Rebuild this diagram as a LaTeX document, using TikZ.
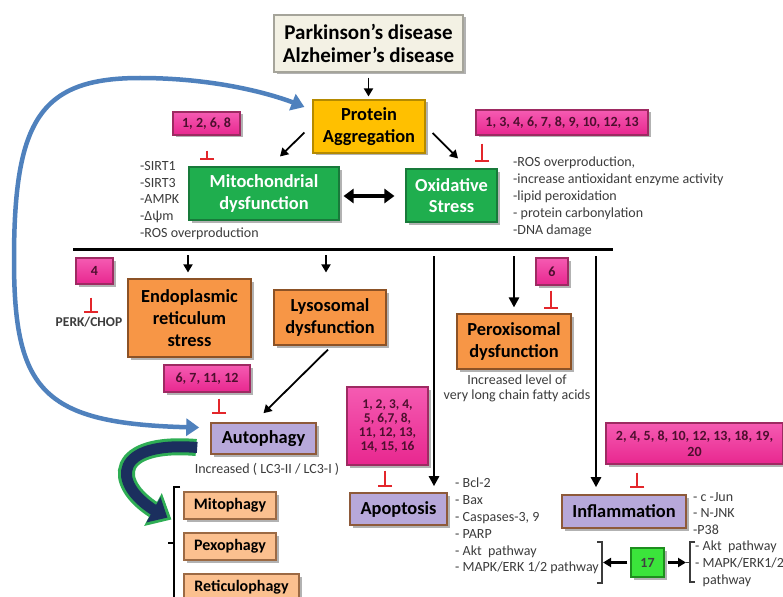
\documentclass[tikz,border=0pt]{standalone}
\usepackage{fontspec}
\setmainfont{Carlito}
\usetikzlibrary{arrows.meta,shadows,calc,bending}
\definecolor{pinkT}{HTML}{F55BB2}
\definecolor{pinkB}{HTML}{E8278F}
\definecolor{pinkD}{HTML}{9E2A62}
\definecolor{pinkTxt}{HTML}{4D0F2E}
\definecolor{grnF}{HTML}{1FAE4E}
\definecolor{grnD}{HTML}{187A3A}
\definecolor{goldF}{HTML}{FFC000}
\definecolor{goldD}{HTML}{B58A00}
\definecolor{orng}{HTML}{F79646}
\definecolor{orngD}{HTML}{8C5226}
\definecolor{peach}{HTML}{FBC08F}
\definecolor{peachD}{HTML}{9C6A44}
\definecolor{lav}{HTML}{B7A8DA}
\definecolor{lavD}{HTML}{8E5A3A}
\definecolor{titleF}{HTML}{F3F1E4}
\definecolor{titleD}{HTML}{A5A49A}
\definecolor{blueA}{HTML}{4F81BD}
\definecolor{navyA}{HTML}{1B2F5E}
\definecolor{glowA}{HTML}{2FAE55}
\definecolor{inhR}{HTML}{E3262B}
\definecolor{txtG}{HTML}{3C3C3C}
\definecolor{limeF}{HTML}{3BE43B}
\definecolor{limeD}{HTML}{1E8E1E}
\begin{document}
\begin{tikzpicture}[x=1pt,y=-1pt,
  bx/.style={draw, line width=1.1pt, align=center, inner sep=1pt,
    drop shadow={shadow xshift=2.5pt,shadow yshift=-2.5pt,opacity=0.3,fill=black}},
  titlebox/.style={bx, fill=titleF, draw=titleD, font=\fontsize{21}{23}\selectfont\bfseries},
  goldbox/.style={bx, fill=goldF, draw=goldD, font=\fontsize{18.4}{21.5}\selectfont\bfseries},
  grnbox/.style={bx, fill=grnF, draw=grnD, text=white, font=\fontsize{18.4}{21.5}\selectfont\bfseries},
  orbox/.style={bx, fill=orng, draw=orngD, font=\fontsize{18.4}{22}\selectfont\bfseries},
  lavbox/.style={bx, fill=lav, draw=lavD, line width=1.6pt, font=\fontsize{18.4}{21}\selectfont\bfseries},
  peachbox/.style={bx, fill=peach, draw=peachD, font=\fontsize{16}{18}\selectfont\bfseries},
  pinkbox/.style={bx, top color=pinkT, bottom color=pinkB, draw=pinkD, text=pinkTxt,
    font=\fontsize{14}{16}\selectfont\bfseries},
  listtxt/.style={align=left, inner sep=0pt, text=txtG, font=\fontsize{14}{16.8}\selectfont, anchor=north west},
  arr/.style={line width=1.8pt, -{Triangle[length=8pt,width=9pt]}},
  larr/.style={line width=2.6pt, -{Triangle[length=10pt,width=10pt]}},
  inh/.style={draw=inhR, line width=2pt, -{Bar[width=14pt]}},
  bluearr/.style={draw=blueA, line width=4.5pt, {Triangle[length=13pt,width=17pt]}-{Triangle[length=13pt,width=17pt]}},
]
\useasboundingbox (0,0) rectangle (783,596);
\fill[white] (0,0) rectangle (783,596);

% top part
\node[titlebox, minimum width=189pt, minimum height=57pt] (title) at (368.5,43.5) {Parkinson's disease\\Alzheimer's disease};
\node[goldbox, minimum width=112pt, minimum height=53pt] (prot) at (369,126.5) {Protein\\Aggregation};
\node[pinkbox, minimum width=67pt, minimum height=23pt] (p1) at (206.5,123.5) {1, 2, 6, 8};
\node[pinkbox, minimum width=172pt, minimum height=25pt] (p2) at (562,122.5) {1, 3, 4, 6, 7, 8, 9, 10, 12, 13};
\node[grnbox, minimum width=150pt, minimum height=53pt] (mito) at (264,193.5) {Mitochondrial\\dysfunction};
\node[grnbox, minimum width=91pt, minimum height=53pt] (oxi) at (451.5,195.5) {Oxidative\\Stress};
\node[listtxt] (mlist) at (140,161) {-SIRT1\\-SIRT3\\-AMPK\\-Δψm\\-ROS overproduction};
\node[listtxt] (olist) at (513,157) {-ROS overproduction,\\-increase antioxidant enzyme activity\\-lipid peroxidation\\- protein carbonylation\\-DNA damage};

\draw[arr, shorten <=5pt, shorten >=3pt] (title.south) -- (title.south |- prot.north);
\draw[arr] ($(prot.west)+(-8,6)$) -- ($(mito.north)+(16,-10)$);
\draw[arr] ($(prot.east)+(7,6.5)$) -- ($(oxi.north)+(6.5,-10)$);
\draw[line width=3.5pt, {Triangle[length=10pt,width=14pt]}-{Triangle[length=10pt,width=14pt]}]
  ($(mito.east)+(4,2.5)$) -- ($(oxi.west)+(-11,0.5)$);

\coordinate (i1) at ($(p1.south)+(0.5,15)$);
\draw[inh] (i1) -- ($(i1 |- mito.north)+(0,-6)$);
\coordinate (i2) at ($(p2.south west)+(7,8)$);
\draw[inh] (i2) -- ($(i2 |- oxi.north)+(0,-6)$);

% bar
\coordinate (barL) at (73,249);
\coordinate (barR) at (613,249);
\draw[line width=3pt] (barL) -- (barR);

% lower part
\node[pinkbox, minimum width=37pt, minimum height=26pt] (p4) at (94.5,271) {4};
\node[font=\fontsize{13.5}{15}\selectfont\bfseries, text=txtG, inner sep=1pt] (perk) at (89,322) {PERK/CHOP};
\node[orbox, minimum width=123pt, minimum height=78pt] (er) at (189.5,318) {Endoplasmic\\reticulum\\stress};
\node[orbox, minimum width=112pt, minimum height=55pt] (lyso) at (330,317.5) {Lysosomal\\dysfunction};
\node[pinkbox, minimum width=32pt, minimum height=27pt] (p6) at (552,271.5) {6};
\node[orbox, minimum width=114pt, minimum height=55pt] (perox) at (514,341.5) {Peroxisomal\\dysfunction};
\node[text=txtG, font=\fontsize{14}{15.5}\selectfont, align=center, inner sep=0pt] (vlcfa) at (517,388.5) {Increased level of\\very long chain fatty acids};
\node[pinkbox, minimum width=86pt, minimum height=27pt] (p7) at (207,378.5) {6, 7, 11, 12};
\node[lavbox, minimum width=105pt, minimum height=31pt] (auto) at (263.5,438.5) {Autophagy};
\node[text=txtG, font=\fontsize{14}{16}\selectfont, inner sep=0pt] (lc3) at (267,469) {Increased ( LC3-II / LC3-I )};
\node[peachbox, minimum width=92pt, minimum height=27pt] (mitoph) at (230,505.5) {Mitophagy};
\node[peachbox, minimum width=92pt, minimum height=27pt] (pexo) at (230,546.5) {Pexophagy};
\node[peachbox, minimum width=115pt, minimum height=27pt] (retic) at (241.5,587.5) {Reticulophagy};

\node[pinkbox, minimum width=81pt, minimum height=78pt, font=\fontsize{13.4}{13.8}\selectfont\bfseries] (p8) at (387.5,426) {1, 2, 3, 4,\\5, 6,7, 8,\\11, 12, 13,\\14, 15, 16};
\node[lavbox, minimum width=97pt, minimum height=32pt] (apop) at (398.5,509) {Apoptosis};
\node[listtxt] (alist) at (455,478) {- Bcl-2\\- Bax\\- Caspases-3, 9\\- PARP\\- Akt~~pathway\\- MAPK/ERK 1/2 pathway};

\node[pinkbox, minimum width=177pt, minimum height=41pt] (p9) at (694.5,443.5) {2, 4, 5, 8, 10, 12, 13, 18, 19,\\20};
\node[lavbox, minimum width=124pt, minimum height=33pt] (infl) at (624,511.5) {Inflammation};
\node[listtxt] (ilist) at (693,492) {- c -Jun\\- N-JNK\\-P38};
\node[bx, fill=limeF, draw=limeD, minimum width=33pt, minimum height=29pt, font=\fontsize{14}{16}\selectfont\bfseries, text=black!75] (n17) at (647.5,562.5) {17};
\node[listtxt] (klist) at (695,541) {- Akt~~pathway\\- MAPK/ERK1/2\\\hphantom{- }pathway};

% arrows from bar
\coordinate (c1) at (188,249);
\draw[arr, shorten <=6pt, shorten >=6pt] (c1) -- (c1 |- er.north);
\coordinate (c2) at (326,249);
\draw[arr, shorten <=6pt, shorten >=17pt] (c2) -- (c2 |- lyso.north);
\coordinate (c3) at (434,249);
\draw[larr, shorten <=7pt, shorten >=6pt] (c3) -- (c3 |- apop.north);
\coordinate (c4) at (514,249);
\draw[larr, shorten <=7pt, shorten >=6pt] (c4) -- (c4 |- perox.north);
\coordinate (c5) at (596,249);
\draw[larr, shorten <=7pt, shorten >=7pt] (c5) -- (c5 |- infl.north);

\draw[arr] ($(lyso.south)+(-2,4)$) -- ($(auto.north)+(0,-9)$);

% inhibitors
\coordinate (i3) at ($(p4.south)+(-3.5,13)$);
\draw[inh] (i3) -- ($(i3 |- perk.north)+(0,-3)$);
\coordinate (i4) at ($(p7.south)+(12,6)$);
\draw[inh] (i4) -- ($(i4 |- auto.north)+(0,-8)$);
\coordinate (i5) at ($(p6.south)+(-1,5)$);
\draw[inh] (i5) -- ($(i5 |- perox.north)+(0,-4)$);
\coordinate (i6) at ($(p8.south)+(-2.5,5)$);
\draw[inh] (i6) -- ($(i6 |- apop.north)+(0,-5)$);
\coordinate (i7) at ($(p9.south west)+(32,8)$);
\draw[inh] (i7) -- ($(i7 |- infl.north)+(0,-6)$);

% brackets and 17 arrows
\draw[line width=1.2pt, txtG] (597,542) -- (602,542) -- (602,583) -- (597,583);
\draw[line width=1.2pt, txtG] (695,542) -- (690,542) -- (690,582) -- (695,582);
\draw[line width=1.2pt, txtG] (690,562.5) -- (686,562.5);
\coordinate (brA) at (603,562.5);
\coordinate (brB) at (686,562.5);
\draw[arr, line width=2.4pt, shorten <=3pt] (n17.west) -- (brA);
\draw[arr, line width=2.4pt, shorten <=3pt] (n17.east) -- (brB);

\draw[line width=2.2pt] (180,487) -- (174,487) -- (174,600);
\draw[line width=2.2pt] (174,543) -- (168,543);

% blue feedback arrow
\coordinate (bA) at ($(auto.west)+(-11,-11)$);
\coordinate (bP) at ($(prot.west)+(-8,-19.5)$);
\draw[bluearr] (bA) .. controls (45,425) and (14,395) .. (14,260)
  .. controls (14,120) and (40,78) .. (140,78)
  .. controls (210,78) and (270,92) .. (bP);

% green-navy curved arrow
\coordinate (gS) at ($(auto.west)+(-14,9)$);
\coordinate (gE) at ($(mitoph.west)+(-12,14)$);
\draw[glowA, line width=17pt, -{Triangle[length=21pt,width=36pt]}] (gS) .. controls (105,440) and (110,492) .. (gE);
\draw[navyA, line width=11pt, shorten >=4.5pt, -{Triangle[length=16pt,width=28pt]}] ($(gS)+(1,0)$) .. controls (105,440) and (110,492) .. (gE);
\end{tikzpicture}
\end{document}
